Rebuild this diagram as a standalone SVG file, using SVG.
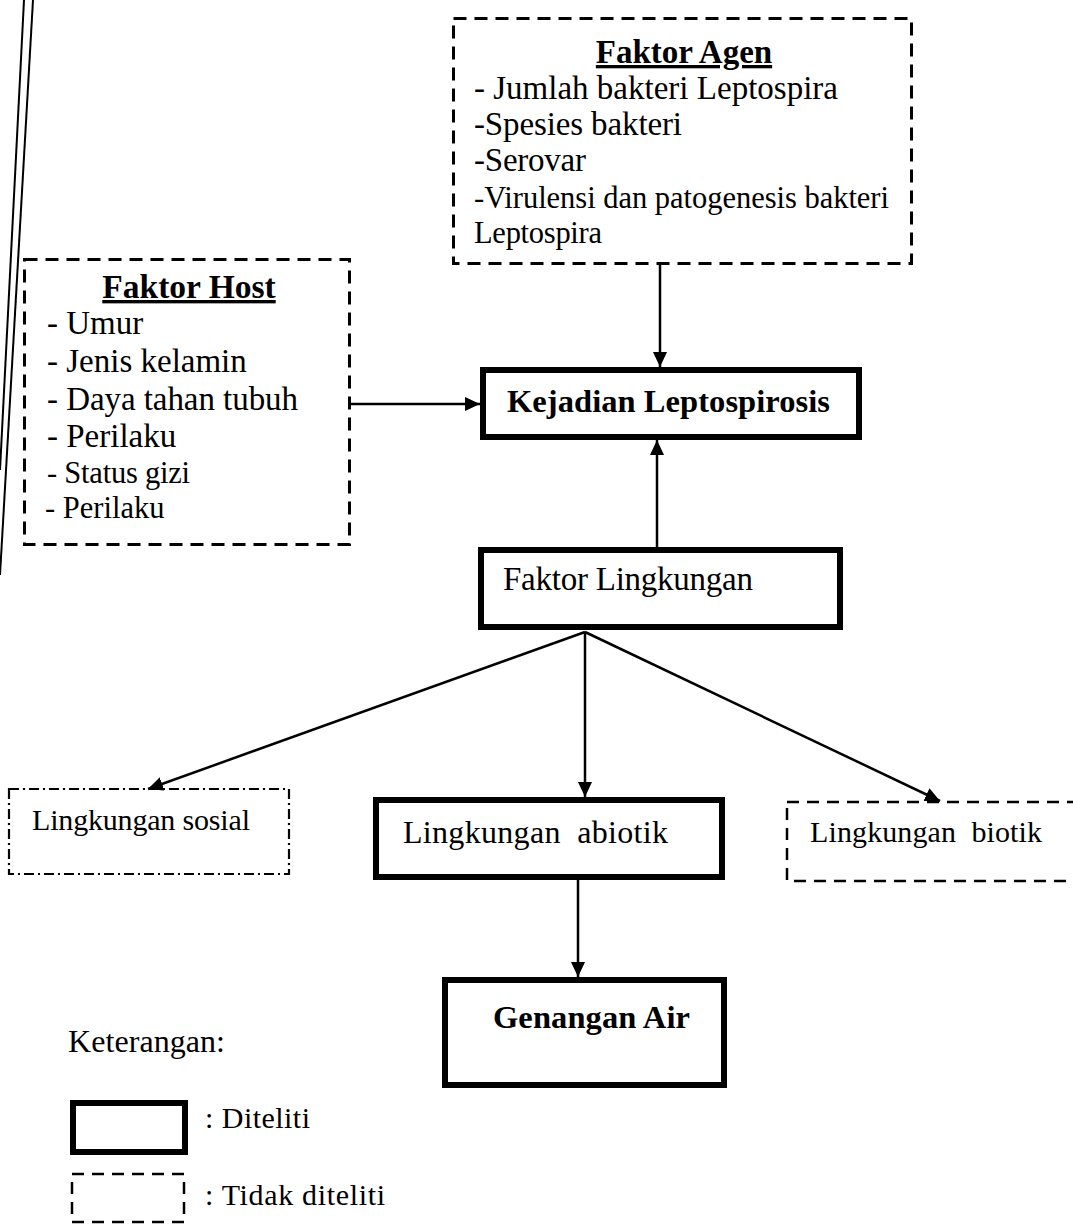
<svg xmlns="http://www.w3.org/2000/svg" width="1073" height="1224" viewBox="0 0 1073 1224">
<defs>
<marker id="arr" markerUnits="userSpaceOnUse" markerWidth="16" markerHeight="14" refX="15" refY="7" orient="auto">
<path d="M0,0 L15,7 L0,14 z" fill="#000"/>
</marker>
<style>
.t{font-family:"Liberation Serif","Times New Roman",serif;fill:#000;}
.b{font-weight:bold;}
.u{text-decoration:underline;}
.thick{fill:#fff;stroke:#000;stroke-width:6;}
.dash{fill:none;stroke:#000;stroke-width:3;stroke-dasharray:13 8;}
.dash2{fill:none;stroke:#000;stroke-width:2.5;stroke-dasharray:12 8;}
.dashdot{fill:none;stroke:#000;stroke-width:2.2;stroke-dasharray:10 4 2 4;}
.con{fill:none;stroke:#000;stroke-width:2.5;marker-end:url(#arr);}
</style>
</defs>
<rect width="1073" height="1224" fill="#fff"/>
<g id="margin">
<line x1="24" y1="0" x2="0" y2="470" stroke="#000" stroke-width="2"/>
<line x1="33" y1="0" x2="0" y2="575" stroke="#000" stroke-width="2"/>
</g>
<g id="connectors">
<line class="con" x1="660" y1="265" x2="660" y2="367"/>
<line class="con" x1="351" y1="404" x2="480" y2="404"/>
<line class="con" x1="657" y1="547" x2="657" y2="440"/>
<line class="con" x1="585" y1="632" x2="148" y2="789"/>
<line class="con" x1="585" y1="632" x2="585" y2="797"/>
<line class="con" x1="585" y1="632" x2="940" y2="801"/>
<line class="con" x1="578" y1="880" x2="578" y2="977"/>
</g>
<g id="faktor-agen">
<rect class="dash" x="453.5" y="18.5" width="458" height="245"/>
<text class="t b u" x="684" y="63" font-size="33" text-anchor="middle">Faktor Agen</text>
<text class="t" x="474" y="99" font-size="33" textLength="364">- Jumlah bakteri Leptospira</text>
<text class="t" x="474" y="135" font-size="33" textLength="208">-Spesies bakteri</text>
<text class="t" x="474" y="171" font-size="33" textLength="112">-Serovar</text>
<text class="t" x="474" y="208" font-size="30.5" textLength="415">-Virulensi dan patogenesis bakteri</text>
<text class="t" x="474" y="243" font-size="30.5" textLength="128">Leptospira</text>
</g>
<g id="faktor-host">
<rect class="dash" x="24.5" y="259.5" width="325" height="285"/>
<text class="t b u" x="189" y="298" font-size="33.5" text-anchor="middle">Faktor Host</text>
<text class="t" x="47" y="334" font-size="33">- Umur</text>
<text class="t" x="47" y="372" font-size="33">- Jenis kelamin</text>
<text class="t" x="47" y="410" font-size="33" textLength="251">- Daya tahan tubuh</text>
<text class="t" x="47" y="447" font-size="33">- Perilaku</text>
<text class="t" x="47" y="483" font-size="30.5" textLength="143">- Status gizi</text>
<text class="t" x="45" y="518" font-size="30.5">- Perilaku</text>
</g>
<g id="kejadian">
<rect class="thick" x="483" y="370" width="376" height="67"/>
<text class="t b" x="507" y="412" font-size="32.5" textLength="323">Kejadian Leptospirosis</text>
</g>
<g id="faktor-lingkungan">
<rect class="thick" x="481" y="550" width="359" height="77"/>
<text class="t" x="503" y="590" font-size="33" textLength="250">Faktor Lingkungan</text>
</g>
<g id="lingkungan-sosial">
<rect class="dashdot" x="9" y="789" width="280" height="85"/>
<text class="t" x="32" y="830" font-size="30" textLength="218">Lingkungan sosial</text>
</g>
<g id="lingkungan-abiotik">
<rect class="thick" x="376" y="800" width="346" height="77"/>
<text class="t" x="403" y="843" font-size="32" textLength="265" xml:space="preserve">Lingkungan  abiotik</text>
</g>
<g id="lingkungan-biotik">
<rect class="dash2" x="787" y="802" width="300" height="79"/>
<text class="t" x="810" y="842" font-size="30" textLength="232" xml:space="preserve">Lingkungan  biotik</text>
</g>
<g id="genangan-air">
<rect class="thick" x="445" y="980" width="279" height="105"/>
<text class="t b" x="493" y="1028" font-size="32.5" textLength="197">Genangan Air</text>
</g>
<g id="legend">
<text class="t" x="68" y="1052" font-size="32" textLength="157">Keterangan:</text>
<rect class="thick" x="73" y="1103" width="112" height="49"/>
<text class="t" x="205" y="1128" font-size="30" textLength="105">: Diteliti</text>
<rect class="dash2" x="72" y="1174" width="112" height="48"/>
<text class="t" x="205" y="1205" font-size="30" textLength="180">: Tidak diteliti</text>
</g>
</svg>
